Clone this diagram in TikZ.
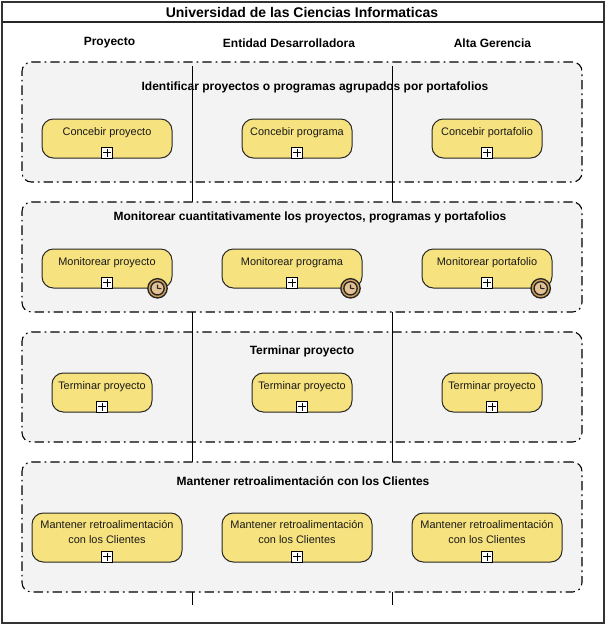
\documentclass[tikz,border=0pt]{standalone}
\usepackage{fontspec}
\setmainfont{Liberation Sans}
\usetikzlibrary{positioning}
\definecolor{groupfill}{HTML}{F3F3F3}
\definecolor{taskfill}{HTML}{F6E27E}
\definecolor{clockfill}{HTML}{D2A05A}
\tikzstyle{group}=[draw=black,fill=groupfill,rounded corners=7,line width=0.8pt,dash pattern=on 7pt off 3pt on 1.25pt off 3pt]
\tikzstyle{task}=[draw=black!85,fill=taskfill,rounded corners=8.5,line width=0.75pt,inner sep=0pt]
\tikzstyle{plusbox}=[draw=black,fill=white,minimum size=8pt,inner sep=0pt,line width=0.6pt]
\tikzstyle{lane} = [draw,line width=0.8pt]
\tikzstyle{weight} = [font=\fontsize{8.2}{11.25}\selectfont,align=center,text=black!90]
\tikzstyle{heading} = [font=\fontsize{9}{11}\selectfont\bfseries]

\begin{document}
\begin{tikzpicture}[x=0.75pt,y=-0.75pt]
    \useasboundingbox[fill=white] (0,0) rectangle (606,626);

    % outer frame and title
    \node[draw=black!80,line width=1.6pt,minimum width=601.5*0.75pt,minimum height=621*0.75pt,inner sep=0pt] (frame) at (303,312.5) {};
    \coordinate (barL) at (2,22);
    \coordinate (barR) at (604,22);
    \draw[black!85,line width=1.6pt] (barL) -- (barR);
    \node[font=\fontsize{10.5}{12}\selectfont\bfseries] (title) at (302,12.5) {Universidad de las Ciencias Informaticas};
    \node[heading] (col1) at (109.5,43) {Proyecto};
    \node[heading] (col2) at (289,43) {Entidad Desarrolladora};
    \node[heading] (col3) at (492.5,43) {Alta Gerencia};

    % groups
    \foreach \ytop/\bh/\name in {62/120/G1, 202/110/G2, 332/110/G3, 462/130/G4}
        \node[group,minimum width=560*0.75pt,minimum height=\bh*0.75pt,inner sep=0pt] (\name) at (302,\ytop+\bh/2) {};
    \node[heading] (G1t) at (315,87.5) {Identificar proyectos o programas agrupados por portafolios};
    \node[heading] (G2t) at (310,217.5) {Monitorear cuantitativamente los proyectos, programas y portafolios};
    \node[heading] (G3t) at (302,351.5) {Terminar proyecto};
    \node[heading] (G4t) at (303,481) {Mantener retroalimentación con los Clientes};

    % lanes
    \foreach \x/\name in {192/A, 392/B} {
        \coordinate (\name1) at (\x.5,66);
        \coordinate (\name2) at (\x.5,202);
        \coordinate (\name3) at (\x.5,312);
        \coordinate (\name4) at (\x.5,462);
        \coordinate (\name5) at (\x.5,592);
        \coordinate (\name6) at (\x.5,605);
        \path[lane] (\name1) -- (\name2);
        \path[lane] (\name3) -- (\name4);
        \path[lane] (\name5) -- (\name6);
    }

    % tasks
    \foreach \cx/\cy/\bw/\bh/\name/\dy/\txt in {
        107/138.5/130/39/T11/-6/{Concebir proyecto},
        297/138.5/110/39/T12/-6/{Concebir programa},
        487/138.5/110/39/T13/-6/{Concebir portafolio},
        107/268.5/130/39/T21/-6/{Monitorear proyecto},
        292/268.5/140/39/T22/-6/{Monitorear programa},
        487/268.5/130/39/T23/-6/{Monitorear portafolio},
        102/392.5/100/39/T31/-6/{Terminar proyecto},
        302/392.5/100/39/T32/-6/{Terminar proyecto},
        492/392.5/100/39/T33/-6/{Terminar proyecto},
        107/537.5/150/49/T41/-5.5/{Mantener retroalimentación\\con los Clientes},
        297/537.5/150/49/T42/-5.5/{Mantener retroalimentación\\con los Clientes},
        487/537.5/150/49/T43/-5.5/{Mantener retroalimentación\\con los Clientes}} {
        \node[task,minimum width=\bw*0.75pt,minimum height=\bh*0.75pt] (\name) at (\cx,\cy) {};
        \node[weight] (\name t) at (\cx,\cy+\dy) {\txt};
        \node[plusbox,above=0pt of \name.south] (\name p) {};
        \draw[line width=0.5pt] ([xshift=-3pt]\name p.center) -- ([xshift=3pt]\name p.center);
        \draw[line width=0.5pt] ([yshift=3pt]\name p.center) -- ([yshift=-3pt]\name p.center);
    }

    % clock marks
    \foreach \name/\pos in {T21/{(157.5,288.3)}, T22/{(350.5,288.3)}, T23/{(540.7,288.3)}} {
        \node[circle,draw=black!85,fill=clockfill,line width=1pt,minimum size=14.5pt,inner sep=0pt] (\name c) at \pos {};
        \node[circle,draw=black!85,fill=clockfill!65,line width=1pt,minimum size=10pt,inner sep=0pt] (\name d) at \pos {};
        \draw[line width=0.8pt,black!85] (\name d.center) -- +(0,-3.8) (\name d.center) -- +(3.8,0.4);
    }
\end{tikzpicture}
\end{document}
